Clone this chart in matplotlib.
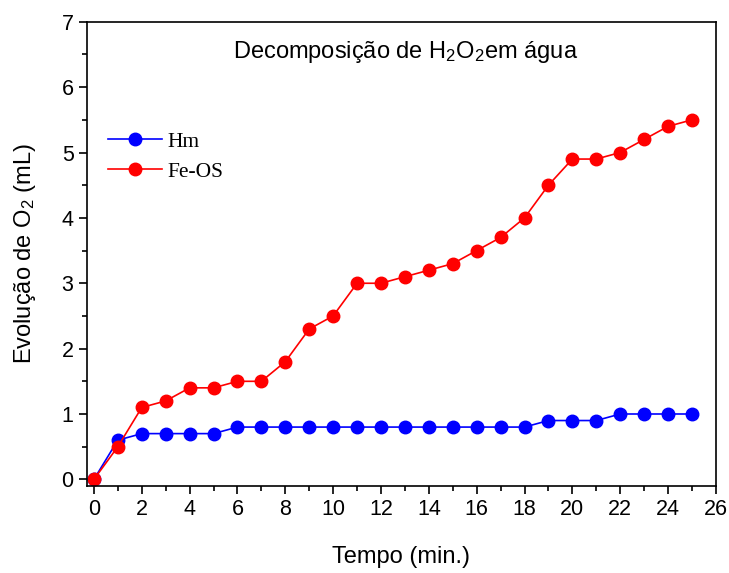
import matplotlib
matplotlib.use("Agg")
import matplotlib.pyplot as plt
from matplotlib.ticker import MultipleLocator

plt.rcParams['font.family'] = ['Liberation Sans', 'DejaVu Sans']
plt.rcParams['mathtext.fontset'] = 'custom'
plt.rcParams['mathtext.rm'] = 'Liberation Sans'
plt.rcParams['mathtext.it'] = 'Liberation Sans:italic'
plt.rcParams['mathtext.default'] = 'regular'

time = list(range(26))
hm = [0, 0.6, 0.7, 0.7, 0.7, 0.7, 0.8, 0.8, 0.8, 0.8, 0.8, 0.8, 0.8, 0.8, 0.8,
      0.8, 0.8, 0.8, 0.8, 0.9, 0.9, 0.9, 1.0, 1.0, 1.0, 1.0]
feos = [0, 0.5, 1.1, 1.2, 1.4, 1.4, 1.5, 1.5, 1.8, 2.3, 2.5, 3.0, 3.0, 3.1, 3.2,
        3.3, 3.5, 3.7, 4.0, 4.5, 4.9, 4.9, 5.0, 5.2, 5.4, 5.5]
xticks = list(range(0, 27, 2))
yticks = list(range(0, 8))

fig = plt.figure(figsize=(7.29, 5.73), dpi=100)
ax = fig.add_axes([0.119, 0.152, 0.863, 0.810])

ax.plot(time, hm, color='#0000ff', marker='o', markersize=9, linewidth=1.2, label='Hm')
ax.plot(time, feos, color='#ff0000', marker='o', markersize=9, linewidth=1.2, label='Fe-OS')

ax.set_xlim(-0.3, 26)
ax.set_ylim(-0.1, 7)
ax.set_xticks(xticks)
ax.set_yticks(yticks)
ax.xaxis.set_minor_locator(MultipleLocator(1))
ax.yaxis.set_minor_locator(MultipleLocator(0.5))
ax.tick_params(which='major', direction='out', length=6, width=1.2, labelsize=15.5)
ax.tick_params(which='minor', direction='out', length=3.5, width=1.2)
ax.tick_params(top=False, right=False)
for s in ax.spines.values():
    s.set_linewidth(1.2)

ax.set_xlabel('Tempo (min.)', fontsize=17, labelpad=19)
ax.set_ylabel('Evolução de O$_2$ (mL)', fontsize=17, labelpad=17)

ax.text(0.506, 0.935, 'Decomposição de H$_2$O$_2$em água', transform=ax.transAxes,
        ha='center', va='center', fontsize=17)

leg = ax.legend(loc='center left', bbox_to_anchor=(0.034, 0.709), frameon=False,
                prop={'family': 'Liberation Serif', 'size': 15.5},
                handlelength=2.5, handletextpad=0.25, labelspacing=0.45,
                borderpad=0, borderaxespad=0)

fig.savefig('out.png', dpi=100)
